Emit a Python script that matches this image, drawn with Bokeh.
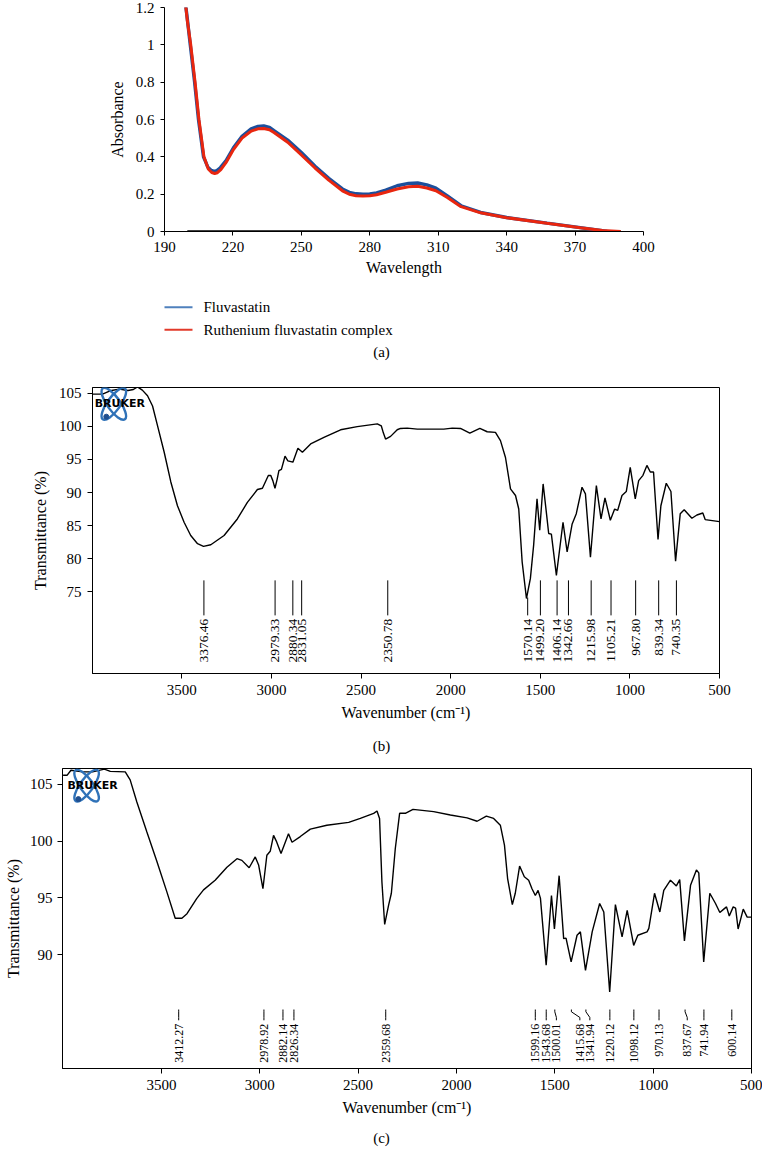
import numpy as np
from bokeh.plotting import figure
from bokeh.models import Range1d, FixedTicker, NumeralTickFormatter
from bokeh.core.properties import value
from bokeh.embed import file_html
from bokeh.resources import INLINE

FONT = "Liberation Serif"
W = 762

# ---------------- data: (a) UV-Vis ----------------
wl_fluva = [199.3, 200, 201.3, 203.2, 204.9, 207.1, 209, 210.5, 211.8, 213, 214.5, 217, 220.3, 224, 228,
            231, 233.5, 236, 238, 244, 250, 256, 262, 268, 271, 274, 277, 280, 283, 287, 292, 297, 301,
            305, 309, 314, 320, 328.6, 340, 357.7, 372.3, 382, 384]
abs_fluva = [1.21, 1.14, 1.0, 0.8, 0.6, 0.4, 0.345, 0.327, 0.322, 0.326, 0.342, 0.38, 0.45, 0.51, 0.55,
             0.563, 0.566, 0.558, 0.54, 0.49, 0.423, 0.35, 0.285, 0.228, 0.21, 0.202, 0.2, 0.201, 0.207,
             0.222, 0.245, 0.258, 0.26, 0.25, 0.232, 0.191, 0.138, 0.102, 0.075, 0.045, 0.021, 0.004, 0.0]
wl_ru = [199.3, 200, 201.5, 203.4, 205.1, 207.3, 209.2, 210.7, 212, 213.2, 214.7, 217, 220.3, 224, 228,
         231, 233.5, 236, 238, 244, 250, 256, 262, 268, 271, 274, 277, 280, 283, 287, 292, 297, 301,
         305, 309, 314, 320, 328.6, 340, 357.7, 372.3, 382, 390]
abs_ru = [1.21, 1.13, 1.0, 0.8, 0.6, 0.4, 0.335, 0.316, 0.311, 0.315, 0.331, 0.37, 0.44, 0.50, 0.538,
          0.55, 0.552, 0.545, 0.53, 0.478, 0.41, 0.34, 0.275, 0.218, 0.2, 0.192, 0.19, 0.191, 0.197,
          0.21, 0.228, 0.24, 0.242, 0.233, 0.218, 0.182, 0.133, 0.1, 0.074, 0.044, 0.02, 0.005, 0.0]
baseline_wl = [200, 390]
baseline_abs = [0, 0]
uv_xticks = [190, 220, 250, 280, 310, 340, 370, 400]
uv_yticks = [0, 0.2, 0.4, 0.6, 0.8, 1.0, 1.2]
series_names = ["Fluvastatin", "Ruthenium fluvastatin complex"]

# ---------------- data: (b) FTIR fluvastatin ----------------
wn_b = [4000, 3942, 3900, 3849, 3800, 3770, 3747, 3720, 3691, 3663, 3635, 3598, 3561, 3524, 3487, 3450,
        3412, 3379, 3338, 3264, 3190, 3134, 3078, 3050, 3017, 3004, 2992, 2980, 2968, 2958, 2944, 2924,
        2908, 2880, 2852, 2827, 2781, 2707, 2614, 2521, 2409, 2387, 2375, 2363, 2335, 2298, 2280, 2242,
        2186, 2038, 1991, 1945, 1893, 1837, 1796, 1750, 1722, 1694, 1666, 1638, 1620, 1601, 1577, 1555,
        1537, 1518, 1503, 1484, 1466, 1453, 1438, 1410, 1373, 1350, 1322, 1299, 1267, 1248, 1220, 1187,
        1161, 1139, 1109, 1085, 1068, 1044, 1020, 998, 970, 951, 927, 905, 886, 868, 843, 827, 797, 771,
        745, 719, 697, 654, 626, 593, 580, 500]
t_b = [104.9, 104.9, 105.4, 105.65, 105.45, 105.6, 106.0, 105.5, 104.65, 103.1, 100.1, 96.1, 91.6, 88.0,
       85.5, 83.5, 82.25, 81.84, 82.1, 83.5, 86.0, 88.5, 90.45, 90.65, 92.57, 92.6, 91.8, 90.65, 92.0, 93.3,
       93.5, 95.5, 94.8, 94.6, 96.7, 96.1, 97.35, 98.35, 99.5, 99.97, 100.4, 100.1, 99.0, 98.1, 98.5, 99.5,
       99.7, 99.75, 99.6, 99.6, 99.75, 99.7, 99.0, 99.7, 99.2, 99.1, 97.85, 95.3, 90.55, 89.55, 87.5, 79.5,
       73.95, 77.0, 82.0, 89.05, 84.3, 91.3, 87.0, 83.8, 83.7, 77.45, 85.5, 81.0, 85.25, 86.8, 90.8, 89.8,
       80.2, 91.05, 86.0, 89.2, 85.8, 87.5, 87.3, 89.55, 90.15, 93.8, 89.05, 91.8, 92.6, 94.1, 93.1, 93.1,
       82.9, 88.0, 91.4, 90.15, 79.6, 86.8, 87.4, 86.1, 86.6, 86.9, 85.9, 85.6]
peaks_b = [3376.46, 2979.33, 2880.34, 2831.05, 2350.78, 1570.14, 1499.20, 1406.14, 1342.66, 1215.98,
           1105.21, 967.80, 839.34, 740.35]
peak_labels_b = ["3376.46", "2979.33", "2880.34", "2831.05", "2350.78", "1570.14", "1499.20", "1406.14",
                 "1342.66", "1215.98", "1105.21", "967.80", "839.34", "740.35"]
yticks_b = [75, 80, 85, 90, 95, 100, 105]

# ---------------- data: (c) FTIR Ru complex ----------------
wn_c = [4000, 3980, 3960, 3900, 3850, 3790, 3760, 3684, 3659, 3625, 3574, 3523, 3472, 3430, 3396, 3370,
        3320, 3286, 3227, 3167, 3116, 3091, 3054, 3023, 3006, 2984, 2964, 2947, 2930, 2916, 2892, 2854,
        2836, 2794, 2743, 2659, 2548, 2489, 2421, 2404, 2391, 2379, 2365, 2345, 2331, 2311, 2289, 2260,
        2221, 2116, 2031, 1946, 1895, 1848, 1811, 1777, 1756, 1740, 1716, 1701, 1679, 1655, 1633, 1616,
        1599, 1585, 1573, 1544, 1517, 1502, 1478, 1455, 1443, 1417, 1387, 1370, 1344, 1310, 1272, 1251,
        1221, 1192, 1158, 1132, 1099, 1078, 1031, 1022, 993, 966, 946, 912, 882, 865, 841, 810, 780, 768,
        743, 712, 683, 661, 641, 627, 613, 593, 581, 568, 542, 522, 500]
t_c = [105.8, 105.8, 106.25, 106.1, 106.1, 106.35, 106.15, 106.1, 105.4, 103.45, 100.8, 98.2, 95.5, 93.2,
       93.2, 93.6, 94.95, 95.7, 96.55, 97.7, 98.45, 98.3, 97.65, 98.6, 97.9, 95.8, 98.75, 99.1, 100.5,
       100.0, 98.9, 100.65, 99.9, 100.4, 101.05, 101.4, 101.65, 102.0, 102.45, 102.65, 102.0, 96.4, 92.65,
       94.35, 95.4, 99.35, 102.45, 102.45, 102.8, 102.6, 102.3, 102.05, 101.75, 102.2, 102.0, 101.4, 99.65,
       96.7, 94.4, 95.4, 97.8, 96.85, 96.55, 95.8, 95.2, 95.65, 94.95, 89.05, 95.2, 92.25, 96.95, 91.4,
       91.45, 89.35, 91.7, 92.0, 88.6, 92.0, 94.5, 93.75, 86.7, 94.4, 91.55, 93.9, 90.8, 91.7, 92.0, 92.3,
       95.4, 93.75, 95.65, 96.55, 96.05, 96.6, 91.2, 96.1, 97.45, 97.2, 89.35, 95.4, 94.5, 93.7, 94.0,
       94.2, 93.4, 94.2, 94.1, 92.25, 94.0, 93.3, 93.3]
peaks_c = [3412.27, 2978.92, 2882.14, 2826.34, 2359.68, 1599.16, 1543.68, 1500.01, 1415.68, 1341.94,
           1220.12, 1098.12, 970.13, 837.67, 741.94, 600.14]
peak_labels_c = ["3412.27", "2978.92", "2882.14", "2826.34", "2359.68", "1599.16", "1543.68", "1500.01",
                 "1415.68", "1341.94", "1220.12", "1098.12", "970.13", "837.67", "741.94", "600.14"]
yticks_c = [90, 95, 100, 105]
ir_xticks = [500, 1000, 1500, 2000, 2500, 3000, 3500]

# label displacement (layout only) for crowded peak labels in (c)
label_shift_c = [0, 0, 0, 0, 0, 0, 0, -8, -43, -20, 0, 0, 0, -11, 0, 0]


def style_axes(p, xticks, yticks, xlabel, ylabel, tick_size="15px", label_size="16px"):
    p.xgrid.visible = False
    p.ygrid.visible = False
    for ax in (p.xaxis[0], p.yaxis[0]):
        ax.major_label_text_font = FONT
        ax.major_label_text_font_size = tick_size
        ax.major_label_text_color = "black"
        ax.axis_label_text_font = FONT
        ax.axis_label_text_font_size = label_size
        ax.axis_label_text_font_style = "normal"
        ax.axis_label_text_color = "black"
        ax.minor_tick_line_color = None
        ax.major_tick_in = 0
        ax.major_tick_out = 5
        ax.major_tick_line_color = "black"
        ax.axis_line_color = "black"
    p.xaxis[0].ticker = FixedTicker(ticks=xticks)
    p.yaxis[0].ticker = FixedTicker(ticks=yticks)
    p.xaxis[0].axis_label = xlabel
    p.yaxis[0].axis_label = ylabel
    p.xaxis[0].major_label_standoff = 6
    p.yaxis[0].major_label_standoff = 6
    p.xaxis[0].axis_label_standoff = 6
    p.yaxis[0].axis_label_standoff = 7


def text_fig(h):
    f = figure(width=W, height=h, x_range=Range1d(0, W), y_range=Range1d(h, 0),
               output_backend="svg", toolbar_location=None, min_border=0,
               min_border_left=0, min_border_right=0, min_border_top=0, min_border_bottom=0)
    f.axis.visible = False
    f.grid.visible = False
    f.outline_line_color = None
    return f


def add_logo(p, xr, yr, fx, fy):
    x0, x1 = xr
    y0, y1 = yr
    cx = x0 + fx * (x1 - x0)
    cy = y1 - fy * (y1 - y0)
    p.ellipse(x=[cx, cx], y=[cy, cy], width=[38, 38], height=[13, 13], angle=[0.95, -0.95],
              width_units="screen", height_units="screen", fill_color=None,
              line_color="#2f72b8", line_width=2.4)
    dx = x0 + (fx - 0.012) * (x1 - x0)
    dy = y1 - (fy + 0.045) * (y1 - y0)
    p.scatter(x=[dx], y=[dy], size=5, color="#1f4f8f")
    p.text(x=[cx], y=[cy], text=["BRUKER"], text_font=value("DejaVu Sans"), text_font_style="bold",
           text_font_size="11px", text_align="center", text_baseline="middle", text_color="black",
           x_offset=6)


# ---------------- (a) ----------------
pa = figure(width=W, height=283, x_range=Range1d(190, 400), y_range=Range1d(0, 1.2),
            output_backend="svg", toolbar_location=None, min_border_left=164, min_border_right=119,
            min_border_top=7, min_border_bottom=52)
pa.outline_line_color = None
style_axes(pa, uv_xticks, uv_yticks, "Wavelength", "Absorbance")
pa.yaxis[0].formatter = NumeralTickFormatter(format="0.[0]")
pa.xaxis[0].major_tick_out = 4
pa.yaxis[0].major_tick_out = 4
pa.xaxis[0].axis_label_standoff = 4
pa.line(baseline_wl, baseline_abs, line_color="black", line_width=2.5)
pa.line(wl_fluva, abs_fluva, line_color="#1c4f9c", line_width=3.4)
pa.line(wl_ru, abs_ru, line_color="#e8260f", line_width=3.0)

# legend + caption (a)
pl = text_fig(79)
pl.segment(x0=[164, 164], y0=[23.7, 46.3], x1=[192, 192], y1=[23.7, 46.3],
           line_color=["#4f81bd", "#e23a2a"], line_width=2)
pl.text(x=[203, 203], y=[23.7, 46.3], text=series_names, text_font=value(FONT),
        text_font_size="15px", text_baseline="middle", text_align="left", text_color="black")
pl.text(x=[381], y=[68], text=["(a)"], text_font=value(FONT), text_font_size="15px",
        text_baseline="middle", text_align="center", text_color="black")

# ---------------- (b) ----------------
xr_b = (3998, 500)
yr_b = (62.6, 105.9)
pb = figure(width=W, height=368, x_range=Range1d(*xr_b), y_range=Range1d(*yr_b),
            output_backend="svg", toolbar_location=None, min_border_left=92, min_border_right=43,
            min_border_top=25, min_border_bottom=57)
pb.outline_line_color = "black"
pb.outline_line_alpha = 1.0
style_axes(pb, ir_xticks, yticks_b, "Wavenumber (cm\u207b\u00b9)", "Transmittance (%)")
pb.line(wn_b, t_b, line_color="black", line_width=1.4)
wn_b_asc = np.array(wn_b[::-1], dtype=float)
t_b_asc = np.array(t_b[::-1], dtype=float)
top_b = [min(76.7, float(np.interp(pk, wn_b_asc, t_b_asc)) - 0.8) for pk in peaks_b]
pb.segment(x0=peaks_b, y0=top_b, x1=peaks_b, y1=[71.4] * len(peaks_b), line_color="black", line_width=1)
pb.text(x=peaks_b, y=[70.9] * len(peaks_b), text=peak_labels_b, angle=np.pi / 2, text_align="right",
        text_baseline="middle", text_font=value(FONT), text_font_size="13.5px", text_color="black")
add_logo(pb, xr_b, yr_b, 0.034, 0.057)

pcb = text_fig(30)
pcb.text(x=[381], y=[15], text=["(b)"], text_font=value(FONT), text_font_size="15px",
         text_baseline="middle", text_align="center", text_color="black")

# ---------------- (c) ----------------
xr_c = (4003, 500)
yr_c = (79.95, 106.4)
pc = figure(width=W, height=365, x_range=Range1d(*xr_c), y_range=Range1d(*yr_c),
            output_backend="svg", toolbar_location=None, min_border_left=62, min_border_right=11,
            min_border_top=8, min_border_bottom=57)
pc.outline_line_color = "black"
style_axes(pc, ir_xticks, yticks_c, "Wavenumber (cm\u207b\u00b9)", "Transmittance (%)")
pc.yaxis[0].major_label_standoff = 5
pc.yaxis[0].axis_label_standoff = 5
pc.line(wn_c, t_c, line_color="black", line_width=1.4)
lab_x_c = [pk + s for pk, s in zip(peaks_c, label_shift_c)]
xs, ys = [], []
for pk, lx in zip(peaks_c, lab_x_c):
    xs.append([pk, pk, lx, lx])
    ys.append([85.15, 84.95, 84.45, 84.2])
pc.multi_line(xs=xs, ys=ys, line_color="black", line_width=1)
pc.text(x=lab_x_c, y=[83.9] * len(peaks_c), text=peak_labels_c, angle=np.pi / 2, text_align="right",
        text_baseline="middle", text_font=value(FONT), text_font_size="12px", text_color="black")
add_logo(pc, xr_c, yr_c, 0.035, 0.057)

pcc = text_fig(24)
pcc.text(x=[381], y=[12], text=["(c)"], text_font=value(FONT), text_font_size="15px",
         text_baseline="middle", text_align="center", text_color="black")

html = file_html([pa, pl, pb, pcb, pc, pcc], INLINE)
open("out.html", "w").write(html)
